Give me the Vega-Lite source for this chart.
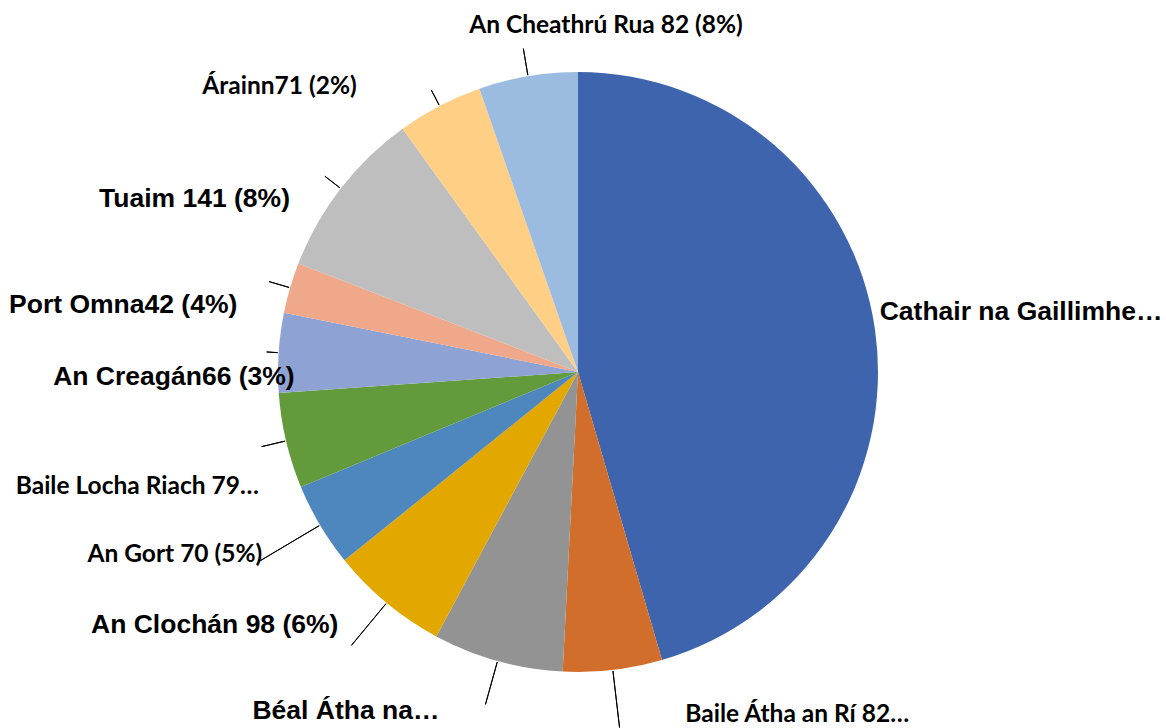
{
  "$schema": "https://vega.github.io/schema/vega-lite/v6.json",
  "width": 1156,
  "height": 712,
  "autosize": "none",
  "padding": {"left": 0, "top": 16, "right": 10, "bottom": 0},
  "background": "white",
  "config": {"view": {"stroke": null}},
  "data": {
    "values": [
      {"name": "Cathair na Gaillimhe", "value": 700, "label": "Cathair na Gaillimhe…"},
      {"name": "Baile Átha an Rí", "value": 82, "label": "Baile Átha an Rí 82…"},
      {"name": "Béal Átha na Sluaighe", "value": 108, "label": "Béal Átha na…"},
      {"name": "An Clochán", "value": 98, "label": "An Clochán 98 (6%)"},
      {"name": "An Gort", "value": 70, "label": "An Gort 70 (5%)"},
      {"name": "Baile Locha Riach", "value": 79, "label": "Baile Locha Riach 79…"},
      {"name": "An Creagán", "value": 66, "label": "An Creagán66 (3%)"},
      {"name": "Port Omna", "value": 42, "label": "Port Omna42 (4%)"},
      {"name": "Tuaim", "value": 141, "label": "Tuaim 141 (8%)"},
      {"name": "Árainn", "value": 71, "label": "Árainn71 (2%)"},
      {"name": "An Cheathrú Rua", "value": 82, "label": "An Cheathrú Rua 82 (8%)"}
    ]
  },
  "transform": [{"window": [{"op": "row_number", "as": "idx"}]}],
  "encoding": {
    "theta": {"field": "value", "type": "quantitative", "stack": true},
    "order": {"field": "idx", "type": "quantitative"}
  },
  "layer": [
    {
      "mark": {"type": "arc", "outerRadius": 300},
      "encoding": {
        "color": {
          "field": "name",
          "type": "nominal",
          "legend": null,
          "scale": {
            "domain": ["Cathair na Gaillimhe", "Baile Átha an Rí", "Béal Átha na Sluaighe", "An Clochán", "An Gort", "Baile Locha Riach", "An Creagán", "Port Omna", "Tuaim", "Árainn", "An Cheathrú Rua"],
            "range": ["#3E64AD", "#D26E2B", "#939393", "#E2A800", "#4E87BE", "#629A3C", "#8FA2D4", "#F0A88A", "#BEBEBE", "#FFCF86", "#9BBBE0"]
          }
        }
      }
    },
    {
      "mark": {
        "type": "arc",
        "filled": false,
        "stroke": "black",
        "strokeWidth": 1,
        "padAngle": 3,
        "innerRadius": 301,
        "outerRadius": {"expr": "datum.name === 'Baile Átha an Rí' ? 358 : datum.name === 'Béal Átha na Sluaighe' ? 345 : datum.name === 'An Clochán' ? 355 : datum.name === 'An Gort' ? 372 : datum.name === 'Baile Locha Riach' ? 325 : datum.name === 'An Creagán' ? 312 : datum.name === 'Port Omna' ? 322 : datum.name === 'Tuaim' ? 320 : datum.name === 'Árainn' ? 318 : datum.name === 'An Cheathrú Rua' ? 328 : 301"}
      }
    },
    {
      "mark": {"type": "text", "radius": 330, "align": "left", "baseline": "middle", "dx": -25, "dy": -13, "font": "Liberation Sans", "fontWeight": "bold", "fontSize": 26.5, "color": "black"},
      "encoding": {"text": {"condition": {"test": "datum.name === 'Cathair na Gaillimhe'", "field": "label"}, "value": ""}}
    },
    {
      "mark": {"type": "text", "radius": 330, "align": "left", "baseline": "middle", "dx": 69, "dy": 15, "font": "Lato", "fontWeight": "bold", "fontSize": 24.5, "color": "black"},
      "encoding": {"text": {"condition": {"test": "datum.name === 'Baile Átha an Rí'", "field": "label"}, "value": ""}}
    },
    {
      "mark": {"type": "text", "radius": 330, "align": "right", "baseline": "middle", "dx": -50, "dy": 21, "font": "Liberation Sans", "fontWeight": "bold", "fontSize": 26.5, "color": "black"},
      "encoding": {"text": {"condition": {"test": "datum.name === 'Béal Átha na Sluaighe'", "field": "label"}, "value": ""}}
    },
    {
      "mark": {"type": "text", "radius": 330, "align": "right", "baseline": "middle", "dx": -29, "dy": -1, "font": "Liberation Sans", "fontWeight": "bold", "fontSize": 26.5, "color": "black"},
      "encoding": {"text": {"condition": {"test": "datum.name === 'An Clochán'", "field": "label"}, "value": ""}}
    },
    {
      "mark": {"type": "text", "radius": 330, "align": "right", "baseline": "middle", "dx": -32, "dy": 15, "font": "Lato", "fontWeight": "bold", "fontSize": 24.5, "color": "black"},
      "encoding": {"text": {"condition": {"test": "datum.name === 'An Gort'", "field": "label"}, "value": ""}}
    },
    {
      "mark": {"type": "text", "radius": 330, "align": "right", "baseline": "middle", "dx": 2, "dy": 39, "font": "Lato", "fontWeight": "bold", "fontSize": 24.5, "color": "black"},
      "encoding": {"text": {"condition": {"test": "datum.name === 'Baile Locha Riach'", "field": "label"}, "value": ""}}
    },
    {
      "mark": {"type": "text", "radius": 330, "align": "right", "baseline": "middle", "dx": 46, "dy": 26, "font": "Liberation Sans", "fontWeight": "bold", "fontSize": 26.5, "color": "black"},
      "encoding": {"text": {"condition": {"test": "datum.name === 'An Creagán'", "field": "label"}, "value": ""}}
    },
    {
      "mark": {"type": "text", "radius": 330, "align": "right", "baseline": "middle", "dx": -24, "dy": 26, "font": "Liberation Sans", "fontWeight": "bold", "fontSize": 26.5, "color": "black"},
      "encoding": {"text": {"condition": {"test": "datum.name === 'Port Omna'", "field": "label"}, "value": ""}}
    },
    {
      "mark": {"type": "text", "radius": 330, "align": "right", "baseline": "middle", "dx": -27, "dy": 29, "font": "Liberation Sans", "fontWeight": "bold", "fontSize": 26.5, "color": "black"},
      "encoding": {"text": {"condition": {"test": "datum.name === 'Tuaim'", "field": "label"}, "value": ""}}
    },
    {
      "mark": {"type": "text", "radius": 330, "align": "right", "baseline": "middle", "dx": -69, "dy": 8, "font": "Lato", "fontWeight": "bold", "fontSize": 24.5, "color": "black"},
      "encoding": {"text": {"condition": {"test": "datum.name === 'Árainn'", "field": "label"}, "value": ""}}
    },
    {
      "mark": {"type": "text", "radius": 330, "align": "center", "baseline": "middle", "dx": 83, "dy": -21, "font": "Lato", "fontWeight": "bold", "fontSize": 24.5, "color": "black"},
      "encoding": {"text": {"condition": {"test": "datum.name === 'An Cheathrú Rua'", "field": "label"}, "value": ""}}
    }
  ]
}
